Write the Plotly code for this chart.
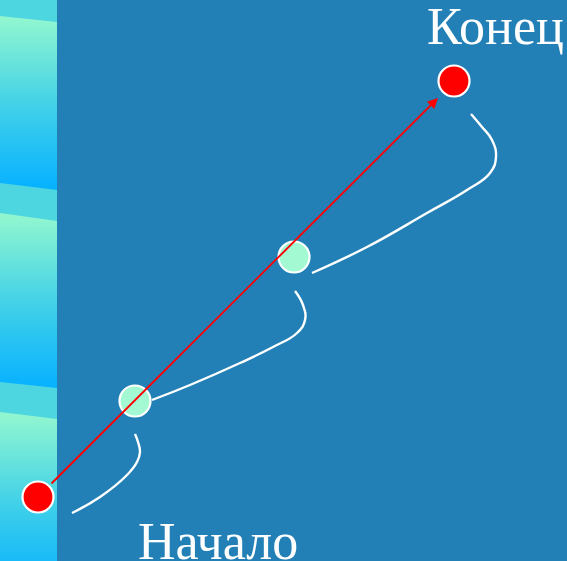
import plotly.graph_objects as go

W, H = 567, 561
BG = "#2280b6"
BAND = "#4dd5e0"
STRIP_W = 57

# left decorative strip panels: (top at x=0, top at right, bottom at x=0, bottom at right)
panel_tops_left = [16, 213, 412]
panel_tops_right = [22, 221, 419]
panel_bottoms_left = [183, 382, 580]
panel_bottoms_right = [190, 388, 587]

# points: start, two intermediate, end
point_x = [38, 135, 294, 454]
point_y = [497, 401, 257, 81]
point_colors = ["#ff0000", "#a2f9d2", "#a2f9d2", "#ff0000"]

# white hand-drawn curves
curve1_x = [72, 100, 127, 137, 140, 138, 135]
curve1_y = [513, 497, 475, 462, 452, 442, 434]
curve2_x = [152, 190, 240, 273, 297, 305, 303, 295]
curve2_y = [400, 385, 363, 347, 333, 320, 305, 291]
curve3_x = [312, 367, 427, 467, 490, 496, 492, 482, 471]
curve3_y = [273, 247, 213, 190, 173, 157, 140, 127, 114]

# arrow start/end
arrow_from = (50, 485)
arrow_to = (438, 98)

labels = ["Конец", "Начало"]
label_x = [425, 136]
label_y = [10, 511]
label_shift = [14, 0]

fig = go.Figure()

# strip background
fig.add_shape(type="rect", x0=0, x1=STRIP_W, y0=0, y1=H, fillcolor=BAND,
              line_width=0, layer="below")

for tl, tr, bl, br in zip(panel_tops_left, panel_tops_right, panel_bottoms_left, panel_bottoms_right):
    fig.add_trace(go.Scatter(
        x=[0, STRIP_W, STRIP_W, 0, 0], y=[tl, tr, br, bl, tl],
        mode="lines", line=dict(width=0), fill="toself",
        fillgradient=dict(type="vertical",
                          colorscale=[[0, "#90f6d0"], [0.5, "#44d2e7"], [1, "#08b2ff"]],
                          start=(tl + tr) / 2, stop=(bl + br) / 2),
        hoverinfo="skip", showlegend=False))

for cx, cy in [(curve1_x, curve1_y), (curve2_x, curve2_y), (curve3_x, curve3_y)]:
    fig.add_trace(go.Scatter(x=cx, y=cy, mode="lines",
                             line=dict(color="white", width=2.4, shape="spline", smoothing=1.3),
                             hoverinfo="skip", showlegend=False))

fig.add_trace(go.Scatter(
    x=point_x, y=point_y, mode="markers",
    marker=dict(size=31, color=point_colors, line=dict(color="white", width=2.2)),
    hoverinfo="skip", showlegend=False))

fig.add_annotation(x=arrow_to[0], y=arrow_to[1], ax=arrow_from[0], ay=arrow_from[1],
                   xref="x", yref="y", axref="x", ayref="y", text="",
                   showarrow=True, arrowhead=2, arrowsize=1.1, arrowwidth=1.9,
                   arrowcolor="#ff0000")

for t, lx, ly, sh in zip(labels, label_x, label_y, label_shift):
    fig.add_annotation(x=lx, y=ly, yshift=sh, xref="x", yref="y", text=t, showarrow=False,
                       xanchor="left", yanchor="top",
                       font=dict(family="Liberation Serif", size=52, color="white"))

fig.update_layout(width=W, height=H, margin=dict(l=0, r=0, t=0, b=0),
                  paper_bgcolor=BG, plot_bgcolor=BG,
                  xaxis=dict(range=[0, W], visible=False, fixedrange=True),
                  yaxis=dict(range=[H, 0], visible=False, fixedrange=True))

fig.write_html("out.html", config={"displayModeBar": False},
               post_script="document.body.style.margin='0';document.body.style.overflow='hidden';")
